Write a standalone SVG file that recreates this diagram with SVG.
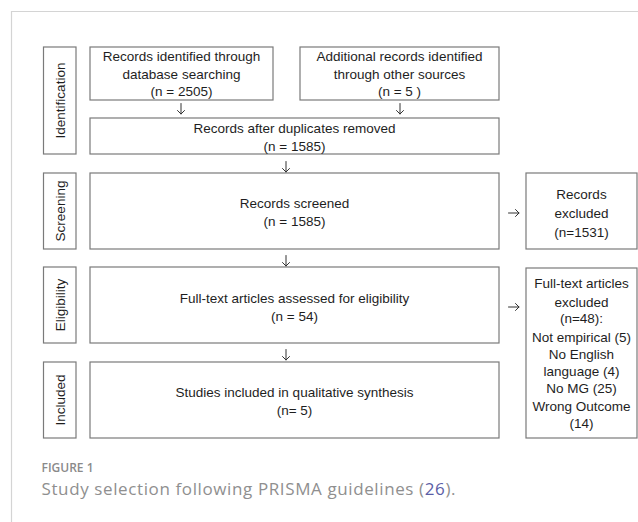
<svg xmlns="http://www.w3.org/2000/svg" width="638" height="522" viewBox="0 0 638 522">
<defs>
<style>
.frame{fill:none;stroke:#d4d4d4;stroke-width:1.2}
.box{fill:#ffffff;stroke:#7a7a7a;stroke-width:1.2}
.t{font-family:"Liberation Sans",Arial,sans-serif;font-size:13.5px;fill:#1e1e1e;text-anchor:middle}
.lbl{font-family:"Liberation Sans",Arial,sans-serif;font-size:13.5px;fill:#1e1e1e;text-anchor:middle}
.arr{fill:none;stroke:#333;stroke-width:1;stroke-linecap:round;stroke-linejoin:round}
.cap1{font-family:"Open Sans",Lato,sans-serif;font-size:12px;font-weight:600;fill:#8a8a8a}
.cap2{font-family:"Open Sans",Lato,sans-serif;font-size:17px;fill:#8f8f8f}
</style>
</defs>
<rect width="638" height="522" fill="#ffffff"/>
<path class="frame" d="M11.5,522 V11.5 H638"/>

<g id="label-identification"><rect class="box" x="43.5" y="47" width="32.5" height="107"/><text class="lbl" transform="translate(64.5,100.5) rotate(-90)">Identification</text></g>
<g id="label-screening"><rect class="box" x="43.5" y="173" width="32.5" height="76"/><text class="lbl" transform="translate(64.5,211) rotate(-90)">Screening</text></g>
<g id="label-eligibility"><rect class="box" x="43.5" y="267" width="32.5" height="76"/><text class="lbl" transform="translate(64.5,305) rotate(-90)">Eligibility</text></g>
<g id="label-included"><rect class="box" x="43.5" y="362" width="32.5" height="76"/><text class="lbl" transform="translate(64.5,400) rotate(-90)">Included</text></g>

<g id="db"><rect class="box" x="90" y="47" width="183" height="53"/>
<text class="t" x="181.5" y="61">Records identified through</text>
<text class="t" x="181.5" y="78.5">database searching</text>
<text class="t" x="181.5" y="96">(n = 2505)</text></g>

<g id="other"><rect class="box" x="300" y="47" width="199" height="53"/>
<text class="t" x="399.5" y="61">Additional records identified</text>
<text class="t" x="399.5" y="78.5">through other sources</text>
<text class="t" x="399.5" y="96">(n = 5 )</text></g>

<g id="dup"><rect class="box" x="90" y="118" width="409" height="36"/>
<text class="t" x="294.5" y="132.5">Records after duplicates removed</text>
<text class="t" x="294.5" y="150.5">(n = 1585)</text></g>

<g id="screened"><rect class="box" x="90" y="173" width="409" height="76"/>
<text class="t" x="294.5" y="207.5">Records screened</text>
<text class="t" x="294.5" y="225.5">(n = 1585)</text></g>

<g id="excluded"><rect class="box" x="526" y="173" width="111" height="76"/>
<text class="t" x="581.5" y="199">Records</text>
<text class="t" x="581.5" y="218">excluded</text>
<text class="t" x="581.5" y="237">(n=1531)</text></g>

<g id="eligible"><rect class="box" x="90" y="267" width="409" height="76"/>
<text class="t" x="294.5" y="302.5">Full-text articles assessed for eligibility</text>
<text class="t" x="294.5" y="320.5">(n = 54)</text></g>

<g id="ft-excluded"><rect class="box" x="526" y="268" width="111" height="170"/>
<text class="t" x="581.5" y="288">Full-text articles</text>
<text class="t" x="581.5" y="306.5">excluded</text>
<text class="t" x="581.5" y="323">(n=48):</text>
<text class="t" x="581.5" y="341.5">Not empirical (5)</text>
<text class="t" x="581.5" y="358.5">No English</text>
<text class="t" x="581.5" y="375.5">language (4)</text>
<text class="t" x="581.5" y="392.5">No MG (25)</text>
<text class="t" x="581.5" y="410.5">Wrong Outcome</text>
<text class="t" x="581.5" y="428">(14)</text></g>

<g id="included"><rect class="box" x="90" y="362" width="409" height="76"/>
<text class="t" x="294.5" y="396.5">Studies included in qualitative synthesis</text>
<text class="t" x="294.5" y="414.5">(n= 5)</text></g>

<g id="connectors">
<path class="arr" d="M181,103.5 V114 M177.5,110.5 L181,114 L184.5,110.5"/>
<path class="arr" d="M400,103.5 V114 M396.5,110.5 L400,114 L403.5,110.5"/>
<path class="arr" d="M286,161.5 V172 M282.5,168.5 L286,172 L289.5,168.5"/>
<path class="arr" d="M286,255.5 V266 M282.5,262.5 L286,266 L289.5,262.5"/>
<path class="arr" d="M286,349.5 V360 M282.5,356.5 L286,360 L289.5,356.5"/>
<path class="arr" d="M508.5,213 H519 M515.5,209.5 L519,213 L515.5,216.5"/>
<path class="arr" d="M508.5,307 H519 M515.5,303.5 L519,307 L515.5,310.5"/>
</g>

<text class="cap1" x="41.5" y="472">FIGURE 1</text>
<text class="cap2" x="41.5" y="495" textLength="414" lengthAdjust="spacing">Study selection following PRISMA guidelines (<tspan fill="#5b5ea6">26</tspan>).</text>
</svg>
